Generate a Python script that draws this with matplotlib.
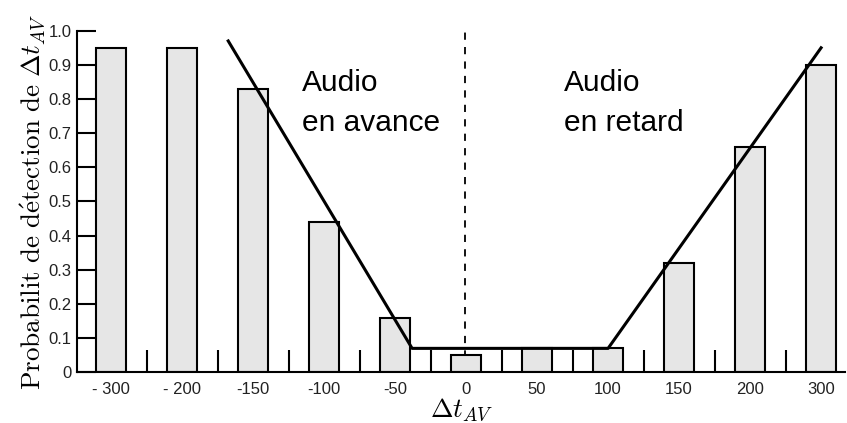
import numpy as np
import matplotlib.pyplot as plt

plt.rcParams['font.family'] = ['Liberation Sans', 'DejaVu Sans']
plt.rcParams['mathtext.fontset'] = 'cm'

# delays (ms) and detection probability
delays = ['- 300', '- 200', '-150', '-100', '-50', '0', '50', '100', '150', '200', '300']
proba = [0.95, 0.95, 0.83, 0.44, 0.16, 0.05, 0.07, 0.07, 0.32, 0.66, 0.90]

# piecewise fit (in bar index units)
fit_x = [1.65, 4.24, 7.0, 10.0]
fit_y = [0.97, 0.07, 0.07, 0.95]

fig = plt.figure(figsize=(8.47, 4.23), dpi=100)
ax = fig.add_axes([0.0909, 0.1199, 0.907, 0.8075])

pos = np.arange(len(delays))
ax.bar(pos, proba, width=0.43, color='#e6e6e6', edgecolor='black', linewidth=1.5, zorder=2)
ax.plot(fit_x, fit_y, color='black', linewidth=2.2, zorder=3, clip_on=False)
ax.axvline(4.98, color='black', linestyle=(0, (4, 4)), linewidth=1.3, zorder=1)

ax.text(2.69, 0.823, 'Audio', fontsize=21.5, ha='left', va='baseline')
ax.text(2.69, 0.705, 'en avance', fontsize=21.5, ha='left', va='baseline')
ax.text(6.38, 0.823, 'Audio', fontsize=21.5, ha='left', va='baseline')
ax.text(6.38, 0.705, 'en retard', fontsize=21.5, ha='left', va='baseline')

ax.set_xlim(-0.48, 10.34)
ax.set_ylim(0, 1.0)
ax.set_xticks(pos)
ax.set_xticklabels(delays, fontsize=12, color='#222222')
ax.set_xticks(pos[:-1] + 0.5, minor=True)
ax.tick_params(axis='x', which='major', length=0, pad=7)
ax.tick_params(axis='x', which='minor', direction='in', length=16, width=1.5)

ax.set_yticks(np.arange(0, 1.01, 0.1))
ax.set_yticklabels(['0'] + ['%.1f' % v for v in np.arange(0.1, 1.01, 0.1)], fontsize=12, color='#222222')
ax.tick_params(axis='y', direction='in', length=13.5, width=1.5, pad=4)

for s in ['top', 'right']:
    ax.spines[s].set_visible(False)
for s in ['left', 'bottom']:
    ax.spines[s].set_linewidth(1.5)

ax.set_xlabel(r'$\Delta t_{AV}$', fontsize=19.5, labelpad=-1)
ax.set_ylabel(r'$\mathrm{Probabilit\ de\ d\acute{e}tection\ de\ }\Delta t_{AV}$', fontsize=19.5, labelpad=1)

fig.savefig('out.png', dpi=100)
